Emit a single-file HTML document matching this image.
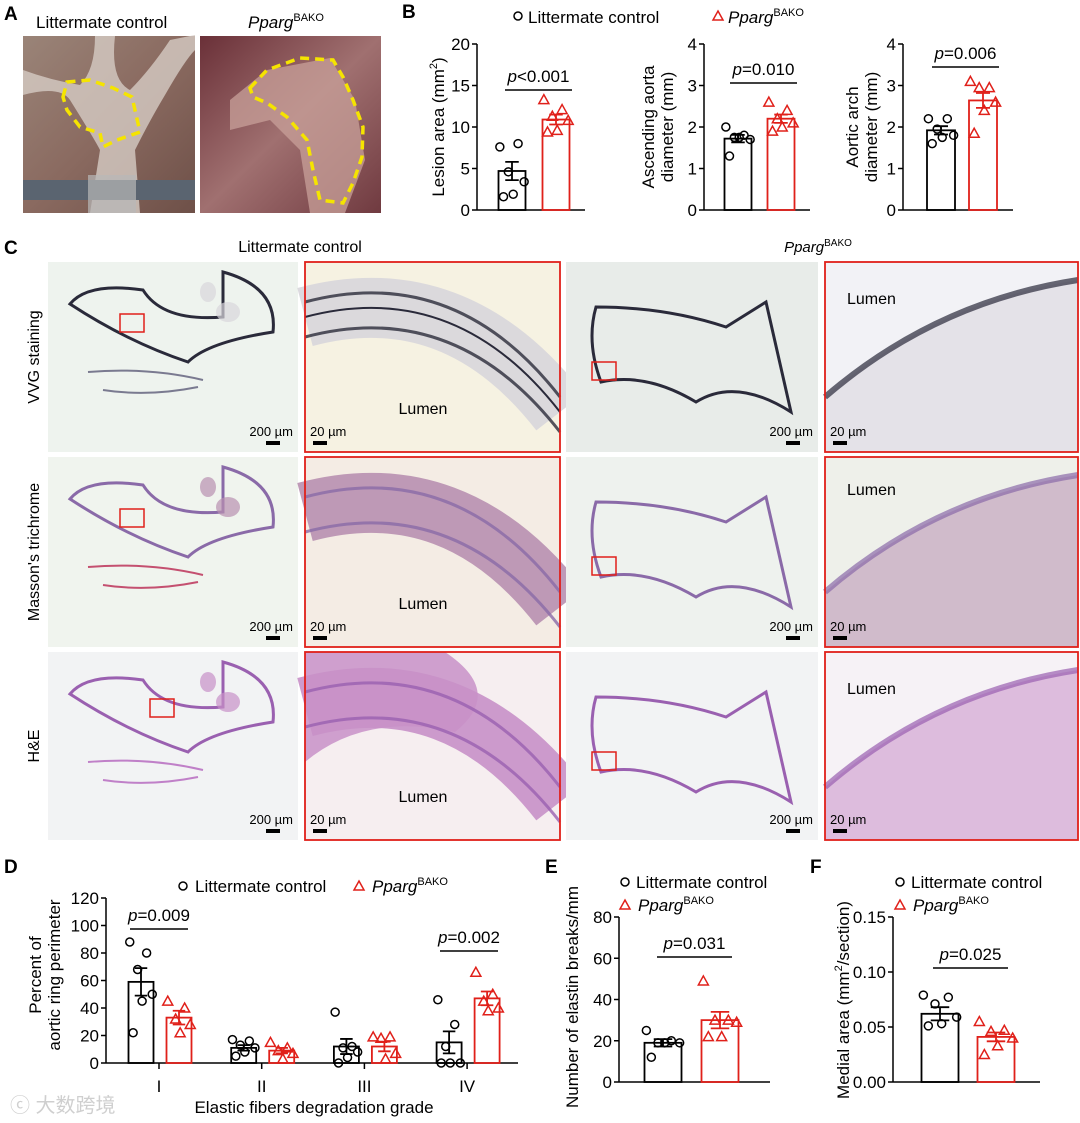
<!DOCTYPE html>
<html><head><meta charset="utf-8">
<style>
body{margin:0;background:#fff;}
#root{position:relative;width:1080px;height:1123px;overflow:hidden;font-family:"Liberation Sans",Arial,sans-serif;}
svg text{font-family:"Liberation Sans",Arial,sans-serif;}
</style></head>
<body><div id="root">
<svg id="fig" width="1080" height="1123" viewBox="0 0 1080 1123" xmlns="http://www.w3.org/2000/svg">
<defs>
<linearGradient id="photo1" x1="0" y1="0" x2="1" y2="1"><stop offset="0" stop-color="#9a8478"/><stop offset="0.5" stop-color="#8a6a60"/><stop offset="1" stop-color="#6e5048"/></linearGradient>
<linearGradient id="photo2" x1="0" y1="0" x2="1" y2="1"><stop offset="0" stop-color="#6a3038"/><stop offset="0.5" stop-color="#a07070"/><stop offset="1" stop-color="#703a40"/></linearGradient>
</defs>
<!-- Panel A -->
<text x="4" y="20" font-size="19" font-weight="bold">A</text>
<text x="36" y="28" font-size="17">Littermate control</text>
<text x="248" y="28" font-size="17"><tspan font-style="italic">Pparg</tspan><tspan font-size="11" dy="-7">BAKO</tspan></text>
<g>
<rect x="23" y="36" width="172" height="177" fill="url(#photo1)"/>
<path d="M23 95 Q60 85 70 100 Q95 140 100 150 L90 213 L140 213 L135 150 Q150 120 165 95 Q185 60 195 50 L195 35 L170 40 Q150 70 130 90 Q110 80 115 36 L95 36 Q95 70 80 85 Q50 80 23 70 Z" fill="#d6ccc4" opacity="0.8"/>
<rect x="23" y="180" width="172" height="20" fill="#5a6470"/>
<rect x="88" y="175" width="48" height="38" fill="#b8b8b8" opacity="0.7"/>
<path d="M63 97 L67 82 L90 80 L113 88 L132 97 L140 132 L117 140 L103 147 L100 133 L80 127 L67 110 Z" fill="none" stroke="#f5e400" stroke-width="3.5" stroke-dasharray="9 6"/>
</g>
<g>
<rect x="200" y="36" width="181" height="177" fill="url(#photo2)"/>
<path d="M230 100 L267 70 L330 58 L355 100 L365 160 L345 213 L310 213 L300 150 L270 120 L230 130 Z" fill="#c8a09a" opacity="0.75"/>
<path d="M250 88 L267 70 L300 58 L333 60 L343 77 L353 100 L363 127 L362 157 L353 183 L343 203 L320 200 L313 170 L307 140 L287 117 L267 103 L253 97 Z" fill="none" stroke="#f5e400" stroke-width="3.5" stroke-dasharray="9 6"/>
</g>
<!-- Panel B -->
<text x="402" y="18" font-size="19" font-weight="bold">B</text>
<g>
<circle cx="518" cy="16" r="4" fill="none" stroke="#000" stroke-width="1.5"/>
<text x="528" y="23" font-size="17">Littermate control</text>
<path d="M718 11 L723 20 L713 20 Z" fill="none" stroke="#e0201a" stroke-width="1.5"/>
<text x="728" y="23" font-size="17"><tspan font-style="italic">Pparg</tspan><tspan font-size="11" dy="-7">BAKO</tspan></text>
</g>
<!-- Panel C headings -->
<text x="4" y="254" font-size="19" font-weight="bold">C</text>
<text x="300" y="252" font-size="16" text-anchor="middle">Littermate control</text>
<text x="818" y="252" font-size="15" text-anchor="middle"><tspan font-style="italic">Pparg</tspan><tspan font-size="10" dy="-6">BAKO</tspan></text>
<text transform="translate(39,357) rotate(-90)" font-size="16" text-anchor="middle">VVG staining</text>
<text transform="translate(39,552) rotate(-90)" font-size="16" text-anchor="middle">Masson's trichrome</text>
<text transform="translate(39,746) rotate(-90)" font-size="16" text-anchor="middle">H&amp;E</text>
<g id="tiles"></g>
<!-- Panel D/E/F labels -->
<text x="4" y="873" font-size="19" font-weight="bold">D</text>
<text x="545" y="873" font-size="19" font-weight="bold">E</text>
<text x="810" y="873" font-size="19" font-weight="bold">F</text>
<g>
<circle cx="183" cy="886" r="4" fill="none" stroke="#000" stroke-width="1.5"/>
<text x="195" y="892" font-size="17">Littermate control</text>
<path d="M359 881 L364 890 L354 890 Z" fill="none" stroke="#e0201a" stroke-width="1.5"/>
<text x="372" y="892" font-size="17"><tspan font-style="italic">Pparg</tspan><tspan font-size="11" dy="-7">BAKO</tspan></text>
</g>
<g>
<circle cx="625" cy="882" r="4" fill="none" stroke="#000" stroke-width="1.5"/>
<text x="636" y="888" font-size="17">Littermate control</text>
<path d="M625 900 L630 909 L620 909 Z" fill="none" stroke="#e0201a" stroke-width="1.5"/>
<text x="638" y="911" font-size="17"><tspan font-style="italic">Pparg</tspan><tspan font-size="11" dy="-7">BAKO</tspan></text>
</g>
<g>
<circle cx="900" cy="882" r="4" fill="none" stroke="#000" stroke-width="1.5"/>
<text x="911" y="888" font-size="17">Littermate control</text>
<path d="M900 900 L905 909 L895 909 Z" fill="none" stroke="#e0201a" stroke-width="1.5"/>
<text x="913" y="911" font-size="17"><tspan font-style="italic">Pparg</tspan><tspan font-size="11" dy="-7">BAKO</tspan></text>
</g>
<text x="10" y="1112" font-size="20" fill="#cfcfcf">ⓒ 大数跨境</text>
<g id="charts"></g>
</svg>
<script>
// ---- Chart data ----
const groupsB = ["Littermate control", "PpargBAKO"];
const lesionCtrl = [7.6, 8.0, 4.6, 3.4, 1.9, 1.6];
const lesionBako = [13.3, 12.1, 11.3, 10.8, 9.6, 9.4];
const lesionMean = [4.7, 10.9];
const lesionSem = [1.1, 0.6];
const ascCtrl = [2.0, 1.8, 1.75, 1.7, 1.75, 1.3];
const ascBako = [2.6, 2.4, 2.2, 2.1, 2.0, 1.9];
const ascMean = [1.72, 2.2];
const ascSem = [0.09, 0.1];
const archCtrl = [2.2, 2.2, 1.95, 1.8, 1.75, 1.6];
const archBako = [3.1, 2.95, 2.95, 2.6, 2.4, 1.85];
const archMean = [1.92, 2.64];
const archSem = [0.1, 0.18];
const gradeCats = ["I", "II", "III", "IV"];
const gradeCtrl = [[88, 80, 68, 50, 45, 22], [17, 16, 13, 11, 8, 5], [37, 12, 11, 8, 4, 0], [46, 28, 12, 0, 0, 0]];
const gradeBako = [[45, 40, 32, 28, 22], [15, 11, 9, 7, 3], [19, 19, 18, 7, 3], [66, 50, 45, 40, 38]];
const gradeCtrlMean = [59, 11, 12, 15];
const gradeCtrlSem = [10, 2, 5.5, 8];
const gradeBakoMean = [33, 9, 12, 47];
const gradeBakoSem = [5, 2, 3.5, 5];
const breaksCtrl = [25, 20, 19, 19, 19, 12];
const breaksBako = [49, 30, 30, 29, 22, 22];
const breaksMean = [19, 30];
const breaksSem = [1.8, 4];
const medialCtrl = [0.079, 0.077, 0.071, 0.059, 0.053, 0.051];
const medialBako = [0.055, 0.047, 0.046, 0.040, 0.033, 0.025];
const medialMean = [0.062, 0.041];
const medialSem = [0.006, 0.004];
const ticksB1 = [0, 5, 10, 15, 20];
const ticksB2 = [0, 1, 2, 3, 4];
const ticksD = [0, 20, 40, 60, 80, 100, 120];
const ticksE = [0, 20, 40, 60, 80];
const ticksF = [0, 0.05, 0.10, 0.15];
const tickLabelsF = ["0.00", "0.05", "0.10", "0.15"];

const NS = "http://www.w3.org/2000/svg";
const RED = "#e0201a";
function mk(tag, attrs, parent) {
  const e = document.createElementNS(NS, tag);
  for (const k in attrs) e.setAttribute(k, attrs[k]);
  parent.appendChild(e);
  return e;
}
const charts = document.getElementById("charts");

function yScale(ax, v) { return ax.y0 - (v - ax.min) / (ax.max - ax.min) * (ax.y0 - ax.y1); }

function axis(g, ax, ticks, labels) {
  const yl = mk("line", {x1: ax.x, x2: ax.x, y1: ax.y1, y2: ax.y0, stroke: "#000", "stroke-width": 1.5}, g);
  
  
  const xl = mk("line", {x1: ax.x, x2: ax.xEnd, y1: ax.y0, y2: ax.y0, stroke: "#000", "stroke-width": 1.5}, g);
  
  
  ticks.forEach((t, i) => {
    const y = yScale(ax, t);
    mk("line", {x1: ax.x - 5, x2: ax.x, y1: y, y2: y, stroke: "#000", "stroke-width": 1.5}, g);
    const tx = mk("text", {x: ax.x - 7, y: y + 6, "font-size": 17, "text-anchor": "end"}, g);
    tx.textContent = labels ? labels[i] : t;
    
    
  });
  ax.title.forEach((line, i) => {
    const tl = mk("text", {transform: `translate(${ax.titleX + i * 19},${ax.titleY}) rotate(-90)`, "font-size": 17, "text-anchor": "middle"}, g);
    tl.innerHTML = line;
    
    
  });
}

function bar(g, ax, cx, w, mean, sem, pts, color, tri, name) {
  const y = yScale(ax, mean);
  const r = mk("rect", {x: cx - w / 2, y: y, width: w, height: ax.y0 - y, fill: "none", stroke: color, "stroke-width": 1.8}, g);
  
  
  const ys = yScale(ax, mean + sem), yb = yScale(ax, mean - sem);
  const eb = mk("path", {d: `M${cx} ${ys} V${yb} M${cx - w / 4} ${ys} H${cx + w / 4} M${cx - w / 4} ${yb} H${cx + w / 4}`, stroke: color, "stroke-width": 1.8, fill: "none"}, g);
  
  
  const offs = [-0.5, 0.25, -0.15, 0.5, 0.05, -0.35];
  pts.forEach((v, i) => {
    const px = cx + offs[i % offs.length] * w * 0.9;
    const py = yScale(ax, v);
    let m;
    if (tri) m = mk("path", {d: `M${px} ${py - 5} L${px + 5} ${py + 4} L${px - 5} ${py + 4} Z`, fill: "none", stroke: color, "stroke-width": 1.5}, g);
    else m = mk("circle", {cx: px, cy: py, r: 4, fill: "none", stroke: color, "stroke-width": 1.5}, g);
    
    
  });
}

function sig(g, x1, x2, y, label) {
  mk("line", {x1: x1, x2: x2, y1: y, y2: y, stroke: "#000", "stroke-width": 1.5}, g);
  const t = mk("text", {x: (x1 + x2) / 2, y: y - 8, "font-size": 17, "text-anchor": "middle"}, g);
  t.innerHTML = '<tspan font-style="italic">p</tspan>' + label;
  
  
}

function twoBar(name, ax, ticks, labels, b1, b2, w, means, sems, c, r, sx1, sx2, sigY, sigL) {
  const g = mk("g", {}, charts);
  
  
  axis(g, ax, ticks, labels);
  bar(g, ax, b1, w, means[0], sems[0], c, "#000", false, 'bar-control');
  bar(g, ax, b2, w, means[1], sems[1], r, RED, true, 'bar-bako');
  sig(g, sx1, sx2, sigY, sigL);
}

twoBar('chart-lesion-area', {x: 477, xEnd: 585, y0: 210, y1: 44, min: 0, max: 20, titleX: 444, titleY: 127, title: ["Lesion area (mm<tspan font-size='11' dy='-7'>2</tspan><tspan dy='7'>)</tspan>"]},
  ticksB1, null, 512, 556, 27, lesionMean, lesionSem, lesionCtrl, lesionBako, 505, 572, 90, "&lt;0.001");
twoBar('chart-ascending-aorta', {x: 704, xEnd: 810, y0: 210, y1: 44, min: 0, max: 4, titleX: 654, titleY: 127, title: ["Ascending aorta", "diameter (mm)"]},
  ticksB2, null, 738, 781, 27, ascMean, ascSem, ascCtrl, ascBako, 730, 797, 83, "=0.010");
twoBar('chart-aortic-arch', {x: 903, xEnd: 1013, y0: 210, y1: 44, min: 0, max: 4, titleX: 858, titleY: 127, title: ["Aortic arch", "diameter (mm)"]},
  ticksB2, null, 941, 983, 28, archMean, archSem, archCtrl, archBako, 932, 999, 67, "=0.006");
twoBar('chart-elastin-breaks', {x: 619, xEnd: 770, y0: 1082, y1: 917, min: 0, max: 80, titleX: 578, titleY: 997, title: ["Number of elastin breaks/mm"]},
  ticksE, null, 663, 720, 37, breaksMean, breaksSem, breaksCtrl, breaksBako, 657, 732, 957, "=0.031");
twoBar('chart-medial-area', {x: 893, xEnd: 1040, y0: 1082, y1: 917, min: 0, max: 0.15, titleX: 849, titleY: 1000, title: ["Medial area (mm<tspan font-size='11' dy='-7'>2</tspan><tspan dy='7'>/section)</tspan>"]},
  ticksF, tickLabelsF, 940, 996, 37, medialMean, medialSem, medialCtrl, medialBako, 933, 1008, 968, "=0.025");

// Panel D
(function () {
  const ax = {x: 106, xEnd: 518, y0: 1063, y1: 898, min: 0, max: 120, titleX: 41, titleY: 975, title: ["Percent of", "aortic ring perimeter"]};
  const g = mk("g", {}, charts);
  
  
  axis(g, ax, ticksD, null);
  const x0 = 159, step = 102.7;
  gradeCats.forEach((c, i) => {
    const tx = x0 + i * step;
    mk("line", {x1: tx, x2: tx, y1: ax.y0, y2: ax.y0 + 6, stroke: "#000", "stroke-width": 1.5}, g);
    const t = mk("text", {x: tx, y: ax.y0 + 29, "font-size": 17, "text-anchor": "middle"}, g);
    t.textContent = c;
    
    
    bar(g, ax, tx - 18, 25, gradeCtrlMean[i], gradeCtrlSem[i], gradeCtrl[i], "#000", false, 'bar-control-grade-' + (i + 1));
    bar(g, ax, tx + 20, 25, gradeBakoMean[i], gradeBakoSem[i], gradeBako[i], RED, true, 'bar-bako-grade-' + (i + 1));
  });
  sig(g, 130, 188, 929, "=0.009");
  sig(g, 440, 498, 951, "=0.002");
  const xt = mk("text", {x: 314, y: 1113, "font-size": 17, "text-anchor": "middle"}, g);
  xt.textContent = "Elastic fibers degradation grade";
  
  
})();

// Histology tiles
(function () {
  const tiles = document.getElementById("tiles");
  const cols = [[48, 250], [305, 255], [566, 252], [825, 253]];
  const rows = [[262, 190], [457, 190], [652, 188]];
  const stains = [
    {bg: ["#eef3ee", "#f6f2e2", "#e8ece9", "#f2f2f6"], wall: "#2a2a3a", wall2: "#7a7a90", band: "#d8d6dc", name: "vvg"},
    {bg: ["#f0f4ee", "#f4ece4", "#eef2ee", "#eef0ea"], wall: "#8a6aa8", wall2: "#c45070", band: "#b890b0", name: "masson"},
    {bg: ["#f2f3f4", "#f6eef0", "#f2f3f4", "#f6f2f6"], wall: "#9a60b0", wall2: "#c080c8", band: "#c890c8", name: "he"}
  ];
  const lumenY = [[152, 42], [152, 38], [150, 42]];
  rows.forEach((r, ri) => {
    const st = stains[ri];
    cols.forEach((c, ci) => {
      const g = mk("g", {}, tiles);
      
      
      const x = c[0], y = r[0], w = c[1], h = r[1];
      mk("rect", {x: x, y: y, width: w, height: h, fill: st.bg[ci]}, g);
      if (ci === 0) {
        mk("path", {d: `M${x + 22} ${y + 42} Q${x + 40} ${y + 20} ${x + 95} ${y + 28} Q${x + 115} ${y + 60} ${x + 175} ${y + 55} L${x + 175} ${y + 10} Q${x + 230} ${y + 25} ${x + 225} ${y + 70} Q${x + 160} ${y + 80} ${x + 140} ${y + 100} Q${x + 80} ${y + 80} ${x + 22} ${y + 42} Z`, fill: "none", stroke: st.wall, "stroke-width": 3}, g);
        mk("path", {d: `M${x + 40} ${y + 110} Q${x + 100} ${y + 105} ${x + 155} ${y + 118} M${x + 55} ${y + 128} Q${x + 100} ${y + 135} ${x + 150} ${y + 125}`, fill: "none", stroke: st.wall2, "stroke-width": 2}, g);
        mk("ellipse", {cx: x + 180, cy: y + 50, rx: 12, ry: 10, fill: st.band, opacity: 0.7}, g);
        mk("ellipse", {cx: x + 160, cy: y + 30, rx: 8, ry: 10, fill: st.band, opacity: 0.7}, g);
        mk("rect", {x: x + 72 + (ri === 2 ? 30 : 0), y: y + 52 - (ri === 2 ? 5 : 0), width: 24, height: 18, fill: "none", stroke: RED, "stroke-width": 1.5}, g);
      } else if (ci === 2) {
        mk("path", {d: `M${x + 30} ${y + 45} Q${x + 100} ${y + 45} ${x + 160} ${y + 65} L${x + 200} ${y + 40} L${x + 225} ${y + 150} Q${x + 170} ${y + 115} ${x + 130} ${y + 140} Q${x + 80} ${y + 110} ${x + 35} ${y + 120} Q${x + 20} ${y + 80} ${x + 30} ${y + 45} Z`, fill: "none", stroke: st.wall, "stroke-width": 3}, g);
        mk("rect", {x: x + 26, y: y + 100, width: 24, height: 18, fill: "none", stroke: RED, "stroke-width": 1.5}, g);
      } else if (ci === 1) {
        if (ri === 2) mk("path", {d: `M${x} ${y} L${x + 140} ${y} Q${x + 200} ${y + 40} ${x + 150} ${y + 80} Q${x + 60} ${y + 60} ${x} ${y + 110} Z`, fill: st.band, opacity: 0.85}, g);
        mk("path", {d: `M${x} ${y + 55} Q${x + 150} ${y + 15} ${x + w} ${y + 150}`, fill: "none", stroke: st.band, "stroke-width": 60, opacity: 0.9}, g);
        mk("path", {d: `M${x} ${y + 40} Q${x + 150} ${y} ${x + w} ${y + 135} M${x} ${y + 75} Q${x + 150} ${y + 35} ${x + w} ${y + 170}`, fill: "none", stroke: st.wall, "stroke-width": 3, opacity: 0.8}, g);
        if (ri === 0) mk("path", {d: `M${x} ${y + 55} Q${x + 150} ${y + 15} ${x + w} ${y + 150}`, fill: "none", stroke: st.wall, "stroke-width": 2}, g);
      } else {
        mk("path", {d: `M${x} ${y + 135} Q${x + 110} ${y + 40} ${x + w} ${y + 18} L${x + w} ${y + h} L${x} ${y + h} Z`, fill: st.band, opacity: 0.55}, g);
        mk("path", {d: `M${x} ${y + 135} Q${x + 110} ${y + 40} ${x + w} ${y + 18}`, fill: "none", stroke: st.wall, "stroke-width": 6, opacity: 0.7}, g);
      }
      if (ci === 1 || ci === 3) {
        mk("rect", {x: x, y: y, width: w, height: h, fill: "none", stroke: RED, "stroke-width": 1.8}, g);
        const lt = mk("text", {x: ci === 1 ? x + 118 : x + 22, y: y + (ci === 1 ? lumenY[ri][0] : lumenY[ri][1]), "font-size": 16, "text-anchor": ci === 1 ? "middle" : "start"}, g);
        lt.textContent = "Lumen";
        
        
        const sx = x + 5;
        const st2 = mk("text", {x: sx, y: y + h - 16, "font-size": 13}, g);
        st2.textContent = "20 µm";
        
        
        mk("rect", {x: sx + 3, y: y + h - 11, width: 14, height: 4, fill: "#000"}, g);
      } else {
        const st2 = mk("text", {x: x + w - 5, y: y + h - 16, "font-size": 13, "text-anchor": "end"}, g);
        st2.textContent = "200 µm";
        
        
        mk("rect", {x: x + w - 32, y: y + h - 11, width: 14, height: 4, fill: "#000"}, g);
      }
    });
  });
})();
</script>
</div></body></html>
